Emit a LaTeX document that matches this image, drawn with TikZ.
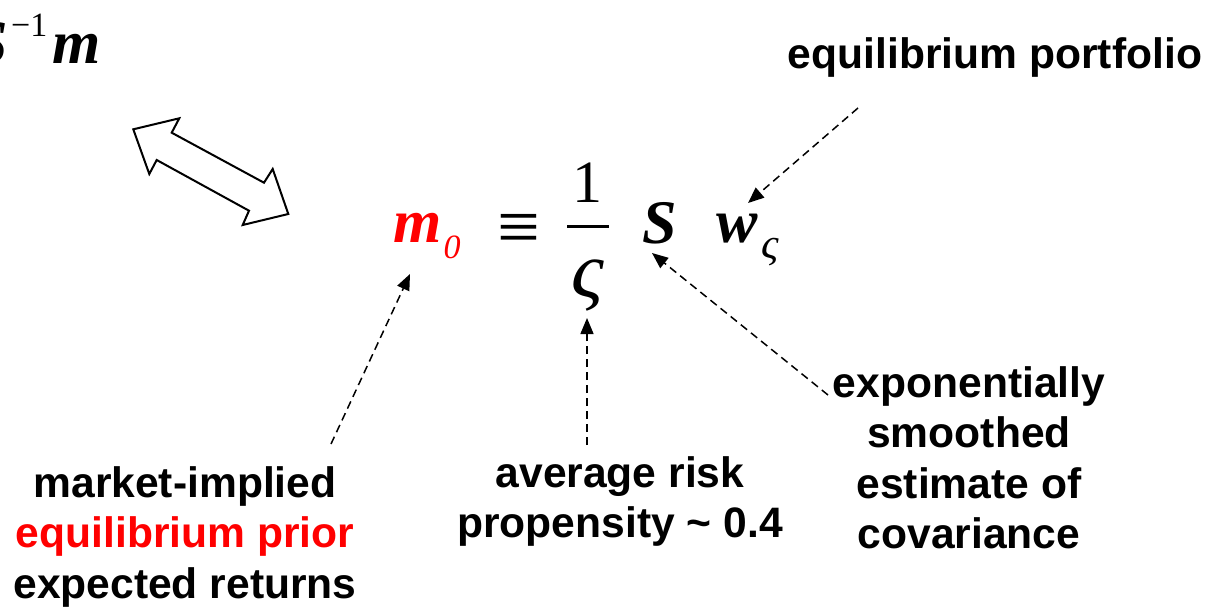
\documentclass[tikz,border=0pt]{standalone}
\usepackage{fontspec}
\setmainfont{Liberation Serif}
\newfontfamily\labfont{Liberation Sans}
\usetikzlibrary{arrows.meta}
\definecolor{eqred}{RGB}{255,0,0}
\begin{document}
\begin{tikzpicture}[x=1pt,y=-1pt,
  lab/.style={font=\labfont\bfseries\fontsize{42.6}{50.5}\selectfont, inner sep=0pt, anchor=base},
  big/.style={font=\fontsize{60}{60}\selectfont, inner sep=0pt, anchor=base},
  bigbi/.style={font=\fontsize{62}{62}\selectfont\bfseries\itshape, inner sep=0pt, anchor=base},
  sml/.style={font=\fontsize{34}{34}\selectfont\itshape, inner sep=0pt, anchor=base},
  pointer/.style={dash pattern=on 8pt off 5pt, line width=1.5pt, -{Triangle[length=16pt,width=13pt]}},
  dbl/.style={draw, line width=2pt, fill=white, line join=miter}]
\useasboundingbox (0,0) rectangle (1219,608);

% labels
\node[lab] (eqp) at (995,68) {equilibrium portfolio};
\node[lab] (exp) at (969,397) {\begin{tabular}[t]{@{}c@{}}exponentially\\smoothed\\estimate of\\covariance\end{tabular}};
\node[lab] (mkt) at (185,497) {\begin{tabular}[t]{@{}c@{}}market-implied\\\textcolor{eqred}{equilibrium prior}\\expected returns\end{tabular}};
\node[lab] (avg) at (620,487) {\begin{tabular}[t]{@{}c@{}}average risk\\propensity \textasciitilde{} 0.4\end{tabular}};

% equation
\node[bigbi, text=eqred] (m0) at (417.5,242) {m};
\node[sml, text=eqred] (m0sub) at (452,258) {0};
\node[big, font=\fontsize{76}{76}\selectfont] (equiv) at (518.5,252) {≡};
\node[big] (one) at (587,202) {1};
\draw[line width=3pt] (567,226) -- (609,226);
\node[big, font=\fontsize{80}{80}\selectfont\itshape] (den) at (588,297) {ς};
\node[bigbi] (S) at (659.5,243) {S};
\node[bigbi] (w) at (737.5,242) {w};
\node[sml, font=\fontsize{43}{43}\selectfont\itshape] (wsub) at (770,258) {ς};

% top-left expression (cropped)
\node[bigbi, anchor=base east] (Sinv) at (8,63) {S};
\node[sml, font=\fontsize{34}{34}\selectfont, anchor=base west] (inv) at (11,36) {−1};
\node[bigbi] (mu) at (76.5,63) {m};

% double arrow
\draw[dbl] (133.3,129.3) -- (179.3,118.3) -- (171.7,132.7) -- (264,182.7) -- (272.7,169)
  -- (288.3,214) -- (242.7,225) -- (249,210.7) -- (156.7,160) -- (149.3,174) -- cycle;

% pointers
\coordinate (eqp-tail) at (858,108); \coordinate (w-tip) at (748,203);
\coordinate (mkt-tail) at (331,444); \coordinate (m0-tip) at (410,274);
\coordinate (avg-tail) at (587,445); \coordinate (den-tip) at (587,318);
\coordinate (exp-tail) at (828,395); \coordinate (S-tip) at (652,253);
\draw[pointer] (eqp-tail) -- (w-tip);
\draw[pointer] (mkt-tail) -- (m0-tip);
\draw[pointer] (avg-tail) -- (den-tip);
\draw[pointer] (exp-tail) -- (S-tip);
\end{tikzpicture}
\end{document}
